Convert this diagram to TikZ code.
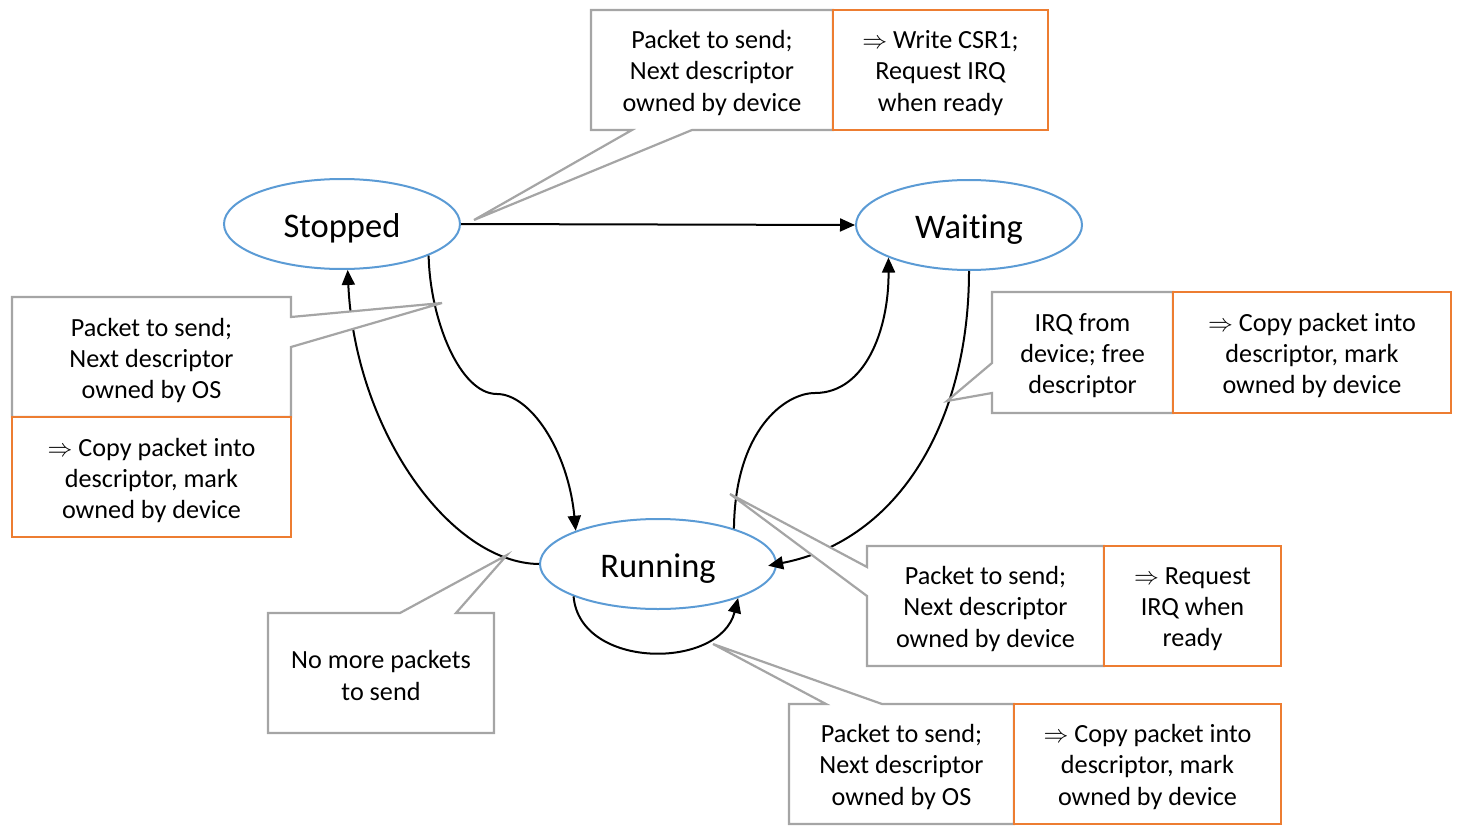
\documentclass[tikz,border=0pt]{standalone}
\usepackage{fontspec}
\setmainfont{Carlito}[Ligatures=CommonOff]
\usetikzlibrary{shapes.geometric,arrows.meta}
\definecolor{stblue}{HTML}{5B9BD5}
\definecolor{cgray}{HTML}{A5A5A5}
\definecolor{corange}{HTML}{ED7D31}
\begin{document}
\begin{tikzpicture}[x=1pt,y=-1pt,
  state/.style={ellipse, draw=stblue, line width=2pt, fill=white, minimum width=236pt, minimum height=90pt, inner sep=0pt, text height=33pt, text depth=6.6pt, font=\fontsize{34.5}{40}\selectfont},
  conn/.style={line width=2pt, -{Triangle[length=15pt,width=13pt]}},
  callout/.style={draw=cgray, line width=2.2pt, fill=white, line join=miter},
  actbox/.style={draw=corange, line width=2.2pt, fill=white},
  lbl/.style={align=center, font=\fontsize{26.2}{31.2}\selectfont, inner sep=0pt}]
\useasboundingbox (0,0) rectangle (1462,832);

% states
\node[state] (stopped) at (342,224) {Stopped};
\node[state, minimum width=226pt] (waiting) at (969,225) {Waiting};
\node[state] (running) at (658,564) {Running};

% transitions
\draw[conn] (stopped.east) -- (waiting.west);
\draw[conn] (stopped.-20) .. controls (430,320) and (460,394) .. (497,394)
   .. controls (530,394) and (568,450) .. (running.158);
\draw[conn] (running.west) .. controls (450,563) and (355,430) .. (stopped.-83);
\draw[conn] (running.25) .. controls (735,430) and (785,393) .. (815,393)
   .. controls (865,393) and (889,330) .. (waiting.-158);
\draw[conn, shorten >=-9pt] (waiting.south) .. controls (969,420) and (900,540) .. (running.east);
\draw[conn] (running.-159) .. controls (580,670) and (720,670) .. (running.-23);

% callout 1 (top)
\coordinate (tip1) at (474,220);
\draw[callout] (591,10) -- (833,10) -- (833,130) -- (692,130) -- (tip1) -- (632,130) -- (591,130) -- cycle;
\draw[actbox] (833,10) rectangle (1048,130);
\node[lbl] (c1a) at (712,73) {Packet to send;\\Next descriptor\\owned by device};
\node[lbl] (c1b) at (940.5,73) {$\Rightarrow$ Write CSR1;\\Request IRQ\\when ready};

% callout 2 (left)
\coordinate (tip2) at (442,303);
\draw[callout] (12,297) -- (291,297) -- (291,317) -- (tip2) -- (291,347) -- (291,417) -- (12,417) -- cycle;
\draw[actbox] (12,417) rectangle (291,537);
\node[lbl] (c2a) at (151.5,360.5) {Packet to send;\\Next descriptor\\owned by OS};
\node[lbl] (c2b) at (151.5,480.5) {$\Rightarrow$ Copy packet into\\descriptor, mark\\owned by device};

% callout 3 (right, IRQ)
\coordinate (tip3) at (947,401);
\draw[callout] (992,292) -- (1173,292) -- (1173,413) -- (992,413) -- (992,393) -- (tip3) -- (992,363) -- cycle;
\draw[actbox] (1173,292) rectangle (1451,413);
\node[lbl] (c3a) at (1082.5,355.5) {IRQ from\\device; free\\descriptor};
\node[lbl] (c3b) at (1312,355.5) {$\Rightarrow$ Copy packet into\\descriptor, mark\\owned by device};

% callout 4 (running, right)
\coordinate (tip4) at (730,494);
\draw[callout] (867,546) -- (1104,546) -- (1104,666) -- (867,666) -- (867,596) -- (tip4) -- (867,567) -- cycle;
\draw[actbox] (1104,546) rectangle (1281,666);
\node[lbl] (c4a) at (985.5,609) {Packet to send;\\Next descriptor\\owned by device};
\node[lbl] (c4b) at (1192.5,609) {$\Rightarrow$ Request\\IRQ when\\ready};

% callout 5 (bottom)
\coordinate (tip5) at (713,644);
\draw[callout] (789,704) -- (826,704) -- (tip5) -- (882,704) -- (1014,704) -- (1014,824) -- (789,824) -- cycle;
\draw[actbox] (1014,704) rectangle (1281,824);
\node[lbl] (c5a) at (901.5,767) {Packet to send;\\Next descriptor\\owned by OS};
\node[lbl] (c5b) at (1147.5,767) {$\Rightarrow$ Copy packet into\\descriptor, mark\\owned by device};

% callout 6 (no more packets)
\coordinate (tip6) at (507,555);
\draw[callout] (268,613) -- (400,613) -- (tip6) -- (456,613) -- (494,613) -- (494,733) -- (268,733) -- cycle;
\node[lbl] (c6a) at (381,675.5) {No more packets\\to send};
\end{tikzpicture}
\end{document}
